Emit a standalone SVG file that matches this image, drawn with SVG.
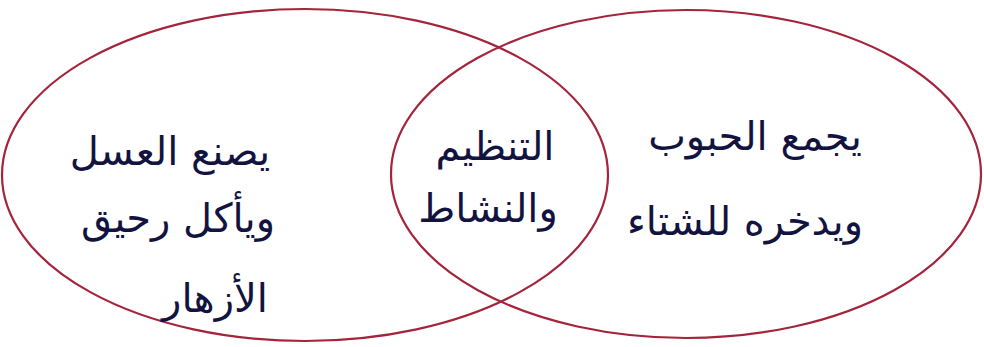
<svg xmlns="http://www.w3.org/2000/svg" width="984" height="347" viewBox="0 0 984 347">
<style>
.c{fill:none;stroke:#a3243b;stroke-width:2.2}
.t{font-family:"DejaVu Sans","Noto Sans",sans-serif;font-size:40px;fill:#12133f;text-anchor:middle;direction:rtl}
</style>
<rect width="984" height="347" fill="#ffffff"/>
<g id="left-set">
<ellipse class="c" cx="305" cy="175" rx="303" ry="166"/>
<text class="t" x="170" y="165">يصنع العسل</text>
<text class="t" x="178" y="232">ويأكل رحيق</text>
<text class="t" x="215" y="312">الأزهار</text>
</g>
<g id="right-set">
<ellipse class="c" cx="686" cy="174" rx="295" ry="164"/>
<text class="t" x="755" y="150">يجمع الحبوب</text>
<text class="t" x="745" y="235">ويدخره للشتاء</text>
</g>
<g id="intersection">
<text class="t" x="495" y="160">التنظيم</text>
<text class="t" x="488" y="222">والنشاط</text>
</g>
<g id="connectors"></g>
</svg>
